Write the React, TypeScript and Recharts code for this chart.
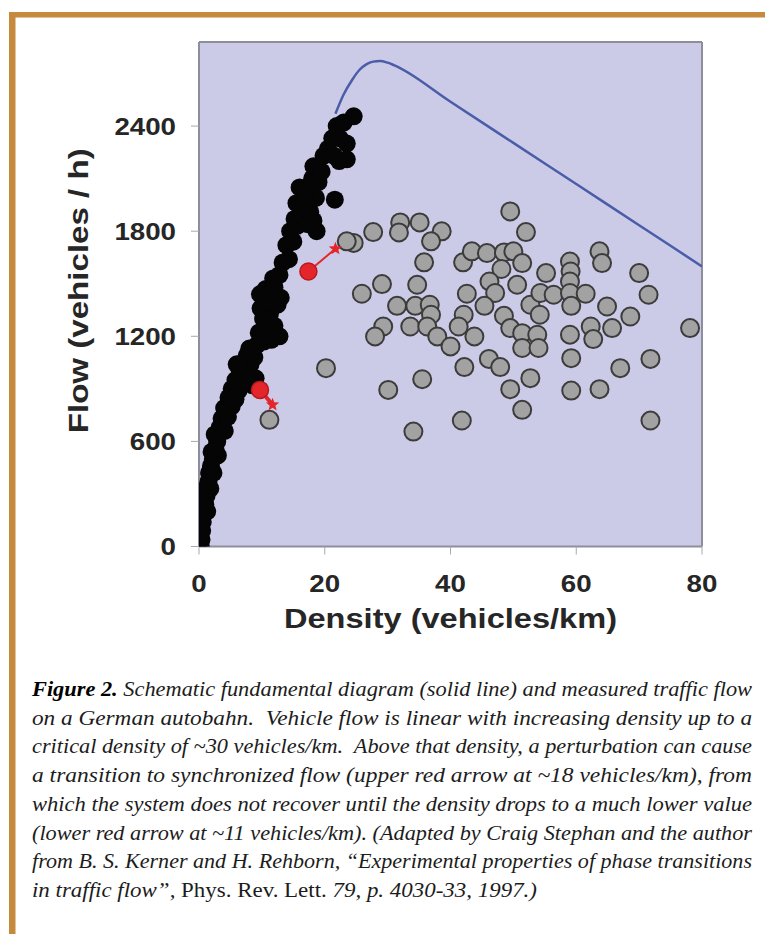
import React from 'react';
import { ComposedChart, Scatter, Line, XAxis, YAxis, CartesianGrid } from 'recharts';

// axis ticks
const densityTicks = [0, 20, 40, 60, 80];
const flowTicks = [0, 600, 1200, 1800, 2400];

// measured free flow (black), [density, flow]
const freeFlow: [number, number][] = [
  [0.3, 0], [0.4, 40], [0.5, 90], [0.6, 140], [0.8, 190], [1.3, 200], [1.0, 240], [1.2, 290],
  [1.1, 330], [1.8, 330], [1.5, 370], [1.6, 420], [2.3, 420], [1.9, 460], [2.2, 500], [3.0, 520],
  [2.0, 540], [2.6, 560], [2.9, 600], [2.5, 640], [3.3, 680], [4.1, 660], [3.6, 730], [4.6, 740],
  [4.0, 790], [5.2, 800], [4.7, 850], [5.8, 840], [5.2, 900], [6.3, 890], [5.8, 950], [6.9, 930],
  [6.5, 1000], [7.6, 980], [7.0, 1050], [8.2, 1040], [7.6, 1090], [8.8, 1080], [6.0, 1040],
  [8.5, 920], [9.0, 960], [8.0, 1130], [9.2, 1150], [10.3, 1170], [11.5, 1180], [12.8, 1200],
  [9.5, 1220], [10.8, 1250], [12.0, 1260], [10.2, 1300], [11.3, 1330], [9.8, 1360], [12.5, 1380],
  [11.0, 1400], [13.0, 1420], [9.7, 1440], [10.6, 1470], [12.0, 1480], [11.8, 1530], [12.8, 1550],
  [13.3, 1620], [14.3, 1640], [13.9, 1720], [15.0, 1740], [14.5, 1800], [15.6, 1830], [15.2, 1870],
  [16.6, 1880], [17.7, 1910], [18.7, 1800], [18.2, 1860], [17.3, 1840], [15.5, 1960], [17.3, 1980],
  [18.6, 1990], [16.0, 2050], [17.0, 2020], [17.8, 2070], [18.8, 2090], [21.6, 1980], [18.0, 2100],
  [19.0, 2080], [18.2, 2170], [19.5, 2140], [19.8, 2230], [20.5, 2270], [21.5, 2230], [22.3, 2200],
  [23.5, 2210], [23.5, 2300], [22.4, 2330], [21.2, 2330], [21.9, 2400], [23.0, 2420], [24.6, 2456],
];

// synchronized flow (grey), [density, flow]
const syncFlow: [number, number][] = [
  [49.5, 1913], [52.0, 1795], [27.7, 1795], [32.0, 1850], [35.1, 1850], [31.8, 1793], [38.6, 1799],
  [36.9, 1742], [35.8, 1622], [24.6, 1733], [23.5, 1742], [42.0, 1622], [43.4, 1685], [45.8, 1675],
  [48.5, 1679], [50.0, 1685], [51.4, 1618], [48.1, 1584], [55.2, 1561], [59.0, 1627], [59.1, 1570],
  [59.0, 1513], [63.7, 1685], [64.1, 1618], [70.0, 1561], [71.5, 1437], [29.1, 1498], [25.9, 1443],
  [34.7, 1494], [31.5, 1374], [34.4, 1374], [36.7, 1380], [36.9, 1323], [33.6, 1256], [36.3, 1256],
  [37.9, 1199], [29.3, 1256], [28.0, 1199], [42.6, 1443], [46.2, 1513], [47.1, 1447], [45.4, 1374],
  [50.6, 1494], [52.7, 1380], [54.3, 1447], [56.4, 1437], [59.0, 1447], [61.5, 1443], [59.2, 1374],
  [54.2, 1323], [48.5, 1317], [42.1, 1323], [41.3, 1256], [43.8, 1199], [40.0, 1142], [49.5, 1247],
  [51.4, 1218], [53.8, 1209], [51.4, 1133], [54.0, 1133], [64.9, 1370], [68.6, 1313], [65.7, 1247],
  [62.3, 1256], [62.7, 1184], [59.0, 1209], [78.1, 1247], [20.2, 1018], [59.2, 1075], [71.8, 1071],
  [67.0, 1018], [46.1, 1071], [47.9, 1024], [42.2, 1024], [35.5, 955], [30.1, 894], [52.7, 961],
  [49.5, 898], [59.2, 890], [63.7, 898], [51.4, 780], [41.8, 719], [71.8, 719], [34.1, 656],
  [11.2, 723],
];

// schematic fundamental diagram
const fundamental: [number, number][] = [
  [21.7, 2470], [23.0, 2580], [24.4, 2666], [25.5, 2720], [26.6, 2752], [27.7, 2768], [28.8, 2772],
  [30.0, 2762], [31.0, 2748], [40.0, 2539], [50.0, 2304], [60.0, 2069], [70.0, 1834], [80.0, 1599],
];

// red arrows: start circle, end star
const upperArrow = [
  { x: 17.4, y: 1570, kind: 'start' },
  { x: 21.7, y: 1700, kind: 'end' },
];
const lowerArrow = [
  { x: 9.7, y: 894, kind: 'start' },
  { x: 11.7, y: 809, kind: 'end' },
];

const captionLines = [
  'on a German autobahn.  Vehicle flow is linear with increasing density up to a',
  'critical density of ~30 vehicles/km.  Above that density, a perturbation can cause',
  'a transition to synchronized flow (upper red arrow at ~18 vehicles/km), from',
  'which the system does not recover until the density drops to a much lower value',
  '(lower red arrow at ~11 vehicles/km). (Adapted by Craig Stephan and the author',
  'from B. S. Kerner and H. Rehborn, \u201cExperimental properties of phase transitions',
];

const toPoints = (arr: [number, number][]) => arr.map(([x, y]) => ({ x, y }));

const SANS = '"Liberation Sans", Arial, Helvetica, sans-serif';
const SERIF = '"Liberation Serif", "Times New Roman", serif';
const TEXT = '#262626';

const BlackDot = (props: any) => <circle cx={props.cx} cy={props.cy} r={9} fill="#050505" />;

const GreyDot = (props: any) => (
  <circle cx={props.cx} cy={props.cy} r={9} fill="#a2a2a2" stroke="#3c3c3c" strokeWidth={2} />
);

const RedMark = (props: any) => {
  const { cx, cy } = props;
  const kind = props.payload?.kind ?? props.kind;
  if (kind === 'start') {
    return <circle cx={cx} cy={cy} r={8.5} fill="#e4262b" stroke="#b81a1e" strokeWidth={1.5} />;
  }
  const pts: string[] = [];
  for (let i = 0; i < 10; i++) {
    const a = (Math.PI / 5) * i - Math.PI / 2;
    const r = i % 2 === 0 ? 7 : 3;
    pts.push(`${cx + r * Math.cos(a)},${cy + r * Math.sin(a)}`);
  }
  return <polygon points={pts.join(' ')} fill="#e4262b" />;
};

const YTick = (props: any) => {
  const s = String(props.payload.value);
  return (
    <text x={props.x} y={props.y} dy={8.5} textAnchor="end" fill={TEXT} fontFamily={SANS}
      fontWeight="bold" fontSize={23.5} textLength={s.length * 15.4} lengthAdjust="spacingAndGlyphs">
      {s}
    </text>
  );
};

const XTick = (props: any) => {
  const s = String(props.payload.value);
  return (
    <text x={props.x} y={props.y} dy={35} textAnchor="middle" fill={TEXT} fontFamily={SANS}
      fontWeight="bold" fontSize={23.5} textLength={s.length * 15.4} lengthAdjust="spacingAndGlyphs">
      {s}
    </text>
  );
};

const XTitle = (props: any) => {
  const vb = props.viewBox || { x: 199, y: 546.5, width: 503 };
  return (
    <text x={vb.x + vb.width / 2} y={vb.y + 81.5} textAnchor="middle" fill={TEXT} fontFamily={SANS}
      fontWeight="bold" fontSize={27.5} textLength={333} lengthAdjust="spacingAndGlyphs">
      Density (vehicles/km)
    </text>
  );
};

const YTitle = (props: any) => {
  const vb = props.viewBox || { x: 0, y: 42, height: 504.5 };
  const cy = vb.y + vb.height / 2 - 3.5;
  return (
    <text x={88} y={cy} transform={`rotate(-90, 88, ${cy})`} textAnchor="middle" fill={TEXT}
      fontFamily={SANS} fontWeight="bold" fontSize={27.5} textLength={285} lengthAdjust="spacingAndGlyphs">
      Flow (vehicles / h)
    </text>
  );
};

const Caption = () => {
  const base = 696;
  const step = 28.7;
  const common = {
    fontFamily: SERIF,
    fontStyle: 'italic',
    fontSize: 21.5,
    fill: '#1c1c1c',
    lengthAdjust: 'spacingAndGlyphs',
    style: { whiteSpace: 'pre' as const },
  };
  return (
    <g>
      <text x={32} y={base} textLength={720} {...common}>
        <tspan fontWeight="bold" fill="#000">Figure 2.</tspan>
        {' Schematic fundamental diagram (solid line) and measured traffic flow'}
      </text>
      {captionLines.map((line, i) => (
        <text key={i} x={32} y={base + step * (i + 1)} textLength={720} {...common}>
          {line}
        </text>
      ))}
      <text x={32} y={base + step * 7} textLength={505} {...common}>
        {'in traffic flow\u201d, '}
        <tspan fontStyle="normal">Phys. Rev. Lett.</tspan>
        {' 79, p. 4030-33, 1997.)'}
      </text>
    </g>
  );
};

export default function App() {
  return (
    <div style={{ position: 'absolute', left: 0, top: 0, width: 765, height: 934, background: '#fff' }}>
      <svg width={765} height={934} style={{ position: 'absolute', left: 0, top: 0 }}>
        <rect x={9} y={12} width={756} height={5.5} fill="#c68a3e" />
        <rect x={9} y={12} width={6.5} height={922} fill="#c68a3e" />
        <Caption />
      </svg>
      <div style={{ position: 'absolute', left: 0, top: 0 }}>
        <ComposedChart width={765} height={650} margin={{ top: 42, right: 63, bottom: 43.5, left: 0 }}>
          <CartesianGrid
            fill="#cbcbe8"
            stroke="#8d8d9b"
            strokeWidth={2}
            horizontalCoordinatesGenerator={({ offset }: any) => [offset.top, offset.top + offset.height]}
            verticalCoordinatesGenerator={({ offset }: any) => [offset.left, offset.left + offset.width]}
          />
          <XAxis
            type="number"
            dataKey="x"
            domain={[0, 80]}
            ticks={densityTicks}
            allowDataOverflow
            height={60}
            axisLine={false}
            tickSize={8}
            tickLine={{ stroke: '#a8a8b0' }}
            tick={<XTick />}
            label={<XTitle />}
          />
          <YAxis
            type="number"
            dataKey="y"
            domain={[0, 2880]}
            ticks={flowTicks}
            allowDataOverflow
            width={199}
            axisLine={false}
            tickSize={8}
            tickMargin={15}
            tickLine={{ stroke: '#a8a8b0' }}
            tick={<YTick />}
            label={<YTitle />}
          />
          <Line
            data={toPoints(fundamental)}
            dataKey="y"
            type="monotone"
            stroke="#4b5ca8"
            strokeWidth={2.5}
            dot={false}
            activeDot={false}
            isAnimationActive={false}
          />
          <Scatter data={toPoints(syncFlow)} dataKey="y" shape={GreyDot} isAnimationActive={false} />
          <Scatter data={toPoints(freeFlow)} dataKey="y" shape={BlackDot} isAnimationActive={false} />
          <Scatter data={upperArrow} dataKey="y" shape={RedMark} line={{ stroke: '#e4262b', strokeWidth: 2 }} isAnimationActive={false} />
          <Scatter data={lowerArrow} dataKey="y" shape={RedMark} line={{ stroke: '#e4262b', strokeWidth: 4 }} isAnimationActive={false} />
        </ComposedChart>
      </div>
    </div>
  );
}
